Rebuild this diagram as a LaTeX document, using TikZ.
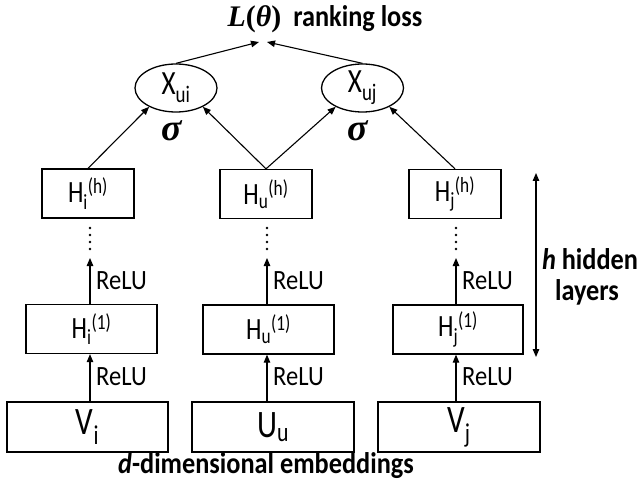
\documentclass[tikz,border=0pt]{standalone}
\usepackage{fontspec}
\setmainfont{Carlito}[FakeStretch=0.88]
\newfontfamily\narrowf{Carlito}[FakeStretch=0.8]
\newfontfamily\serifmath{Liberation Serif}
\usetikzlibrary{shapes.geometric,arrows.meta}
\newcommand\myfs[1]{\fontsize{#1}{#1}\selectfont}
\begin{document}
\begin{tikzpicture}[x=1bp,y=-1bp,
  box/.style={draw,line width=1.3bp,minimum width=#1,minimum height=49bp,inner sep=0pt,font=\narrowf\myfs{31}},
  vbox/.style={draw,line width=1.3bp,minimum width=#1,minimum height=50bp,inner sep=0pt,font=\narrowf\myfs{39}},
  oval/.style={ellipse,draw,line width=1.3bp,minimum width=82bp,minimum height=48bp,inner sep=0pt,font=\narrowf\myfs{34}},
  arr/.style={-{Triangle[length=8bp,width=6.5bp]},line width=1.1bp},
  dotline/.style={line width=2.6bp,line cap=round,dash pattern=on 0bp off 7bp},
  relu/.style={anchor=west,inner sep=0pt,font=\myfs{28}},
  lbl/.style={inner sep=0pt,font=\myfs{30}\bfseries},
  sig/.style={inner sep=0pt,font=\myfs{38}\serifmath\bfseries\itshape}
]
\fill[white] (0,0) rectangle (642,489);
\useasboundingbox (0,0) rectangle (642,489);

% embeddings
\node[vbox=161bp] (vi) at (87.5,427) {V\textsubscript{i}};
\node[vbox=162bp] (uu) at (273,427) {U\textsubscript{u}};
\node[vbox=162bp] (vj) at (459,427) {V\textsubscript{j}};

% first hidden layer
\node[box=131bp] (hi1) at (91.5,329) {H\textsubscript{i}\textsuperscript{(1)}};
\node[box=131bp] (hu1) at (268.5,329.5) {H\textsubscript{u}\textsuperscript{(1)}};
\node[box=130bp] (hj1) at (458,329.5) {H\textsubscript{j}\textsuperscript{(1)}};

% last hidden layer
\node[box=92bp] (hih) at (88,193.5) {H\textsubscript{i}\textsuperscript{(h)}};
\node[box=92bp] (huh) at (266,194) {H\textsubscript{u}\textsuperscript{(h)}};
\node[box=92bp] (hjh) at (455,194) {H\textsubscript{j}\textsuperscript{(h)}};

% outputs
\node[oval] (xui) at (176,88) {X\textsubscript{ui}};
\node[oval] (xuj) at (362.5,88) {X\textsubscript{uj}};
\node[sig] (si) at (172,131) {σ};
\node[sig] (sj) at (358,131) {σ};

% title
\node[lbl] (title) at (325,19) {{\serifmath\itshape L\upshape(\itshape θ\upshape)}\ \ ranking loss};
\coordinate (tl) at (259,42);
\coordinate (tr) at (267,42);
\draw[arr] (xui.north) -- (tl);
\draw[arr] (xuj.north) -- (tr);

% to sigmoids
\draw[arr] (hih.north) -- (xui.-145);
\draw[arr] (huh.north) -- (xui.-35);
\draw[arr] (huh.north) -- (xuj.-145);
\draw[arr] (hjh.north) -- (xuj.-35);

% columns
\coordinate (ci) at (90,0);
\coordinate (cu) at (267,0);
\coordinate (cj) at (456,0);
\coordinate (ti) at (90,258);
\coordinate (tu) at (267,258);
\coordinate (tj) at (456,258);
\coordinate (di1) at (90,228); \coordinate (di2) at (90,250);
\coordinate (du1) at (267,228); \coordinate (du2) at (267,250);
\coordinate (dj1) at (456,228); \coordinate (dj2) at (456,250);

\draw[arr] (vi.north -| ci) -- (hi1.south -| ci);
\draw[arr] (uu.north -| cu) -- (hu1.south -| cu);
\draw[arr] (vj.north -| cj) -- (hj1.south -| cj);
\draw[arr] (hi1.north -| ci) -- (ti);
\draw[arr] (hu1.north -| cu) -- (tu);
\draw[arr] (hj1.north -| cj) -- (tj);
\draw[dotline] (di1) -- (di2);
\draw[dotline] (du1) -- (du2);
\draw[dotline] (dj1) -- (dj2);

\node[relu] (ri1) at (96,281) {ReLU};
\node[relu] (ri0) at (96,377) {ReLU};
\node[relu] (ru1) at (273,281) {ReLU};
\node[relu] (ru0) at (273,377) {ReLU};
\node[relu] (rj1) at (462,281) {ReLU};
\node[relu] (rj0) at (462,377) {ReLU};

% hidden layers span
\coordinate (ha) at (536,173);
\coordinate (hb) at (536,357);
\draw[{Triangle[length=8bp,width=6.5bp]}-{Triangle[length=8bp,width=6.5bp]},line width=1.1bp] (ha) -- (hb);
\node[lbl] (hl) at (590,259) {\textit{h} hidden};
\node[lbl] (ll) at (587,292) {layers};

% bottom label
\node[lbl] (dl) at (266,466) {\textit{d}-dimensional embeddings};
\end{tikzpicture}
\end{document}
